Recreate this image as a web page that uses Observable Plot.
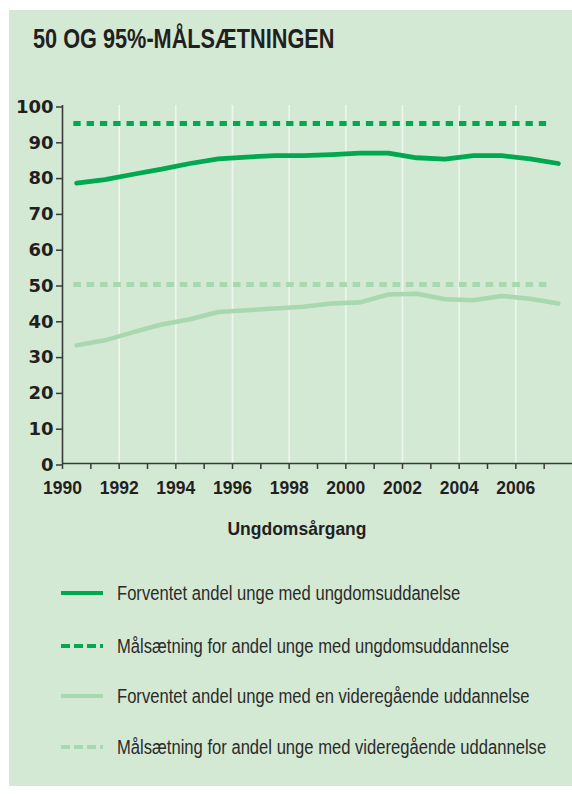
<!DOCTYPE html>
<html><head><meta charset="utf-8">
<script src="https://cdn.jsdelivr.net/npm/d3@7"></script>
<script src="https://cdn.jsdelivr.net/npm/@observablehq/plot@0.6"></script>
<style>
body{margin:0;background:#fff;}
#wrap{position:relative;width:572px;height:794px;overflow:hidden;}
#panel{position:absolute;left:9px;top:10px;width:563px;height:776px;background:#d3e9d4;}
#title{position:absolute;left:33px;top:25px;font-family:"Liberation Sans";font-weight:bold;font-size:28px;line-height:28px;color:#231f20;white-space:nowrap;transform:scaleX(0.775);transform-origin:0 0;}
#chart{position:absolute;left:0;top:80px;}
#xlabel{position:absolute;left:0;width:594px;top:520px;text-align:center;font-family:"Liberation Sans";font-weight:bold;font-size:17.5px;line-height:18px;color:#231f20;}
#chart g[aria-label="y-axis tick label"] text{font-family:"DejaVu Sans";font-weight:bold;font-size:18px;fill:#231f20;}
#chart g[aria-label="x-axis tick label"] text{font-family:"Liberation Sans";font-weight:bold;font-size:17.5px;fill:#231f20;}
.sw{position:absolute;left:61px;width:42px;height:10px;}
.lt{position:absolute;left:117px;font-family:"Liberation Sans";font-size:20px;line-height:20px;color:#2b2b2b;white-space:nowrap;transform:scaleX(0.83);transform-origin:0 0;}
</style></head>
<body><div id="wrap">
<div id="panel"></div>
<div id="title">50 OG 95%-MÅLSÆTNINGEN</div>
<div id="chart"></div>
<div id="xlabel">Ungdomsårgang</div>
<div id="legend"></div>
</div>
<script>
// Data
const years = [1990.5,1991.5,1992.5,1993.5,1994.5,1995.5,1996.5,1997.5,1998.5,1999.5,2000.5,2001.5,2002.5,2003.5,2004.5,2005.5,2006.5,2007.5];
const forventetUngdom = [78.3,79.3,80.8,82.2,83.8,85.1,85.6,86.0,86.0,86.3,86.7,86.7,85.4,85.0,86.0,86.0,85.1,83.8];
const forventetVideregaaende = [33.0,34.4,36.7,38.8,40.3,42.3,42.8,43.3,43.8,44.7,45.0,47.2,47.4,45.9,45.6,46.8,46.0,44.7];
const maalUngdom = [95];
const maalVideregaaende = [50];
const maalSpan = [1990.4, 2007.17];
const yTicks = [0,10,20,30,40,50,60,70,80,90,100];
const xTicks = [1990,1991,1992,1993,1994,1995,1996,1997,1998,1999,2000,2001,2002,2003,2004,2005,2006,2007];
const xLabels = [1990,1992,1994,1996,1998,2000,2002,2004,2006];
const gridYears = [1992,1994,1996,1998,2000,2002,2004,2006];
const legendLabels = [
  "Forventet andel unge med ungdomsuddanelse",
  "Målsætning for andel unge med ungdomsuddannelse",
  "Forventet andel unge med en videregående uddannelse",
  "Målsætning for andel unge med videregående uddannelse"
];

const dark = "#00a84f", light = "#a7d8af", axisCol = "#3a3a3a";
const rows = years.map((y, i) => ({year: y, ungdom: forventetUngdom[i], videre: forventetVideregaaende[i]}));

const plot = Plot.plot({
  width: 572, height: 423,
  marginLeft: 62, marginRight: 0, marginTop: 25, marginBottom: 40,
  style: {background: "transparent", color: "#231f20"},
  x: {domain: [1990, 2008]},
  y: {domain: [0, 100]},
  marks: [
    Plot.ruleX(gridYears, {y1: 0, y2: 100, stroke: "#ffffff", strokeOpacity: 0.6, strokeWidth: 1.6}),
    Plot.ruleY(maalVideregaaende, {x1: maalSpan[0], x2: maalSpan[1], stroke: light, strokeWidth: 5, strokeDasharray: "7.6,5.7"}),
    Plot.ruleY(maalUngdom, {x1: maalSpan[0], x2: maalSpan[1], stroke: dark, strokeWidth: 5, strokeDasharray: "7.3,6"}),
    Plot.line(rows, {x: "year", y: "videre", stroke: light, strokeWidth: 4.6}),
    Plot.line(rows, {x: "year", y: "ungdom", stroke: dark, strokeWidth: 4.8}),
    Plot.axisY({ticks: yTicks, tickSize: 6, tickPadding: 3, dy: 1.5, stroke: axisCol, strokeWidth: 1.5, label: null}),
    Plot.axisX({ticks: xTicks, tickFormat: d => xLabels.includes(d) ? String(d) : "", tickSize: 6, tickPadding: 12, stroke: axisCol, strokeWidth: 1.5, label: null}),
    Plot.ruleX([1990], {y1: 0, y2: 100, stroke: axisCol, strokeWidth: 1.6}),
    Plot.ruleY([0], {x1: 1990, x2: 2008, stroke: axisCol, strokeWidth: 1.6})
  ]
});
document.getElementById("chart").appendChild(plot);

// Legend
const legend = document.getElementById("legend");
const styles = [
  {stroke: dark, dash: null},
  {stroke: dark, dash: "9,4"},
  {stroke: light, dash: null},
  {stroke: light, dash: "9,4"}
];
const rowCenters = [593, 646, 696, 747];
legendLabels.forEach((lab, i) => {
  const s = styles[i];
  const sw = document.createElementNS("http://www.w3.org/2000/svg", "svg");
  sw.setAttribute("class", "sw");
  sw.setAttribute("width", 42); sw.setAttribute("height", 10);
  sw.style.top = (rowCenters[i] - 5) + "px";
  sw.innerHTML = `<line x1="0" x2="42" y1="5" y2="5" stroke="${s.stroke}" stroke-width="4"${s.dash ? ` stroke-dasharray="${s.dash}"` : ""}/>`;
  legend.appendChild(sw);
  const t = document.createElement("div");
  t.className = "lt";
  t.textContent = lab;
  t.style.top = (rowCenters[i] - 10) + "px";
  legend.appendChild(t);
});
</script>
</body></html>
